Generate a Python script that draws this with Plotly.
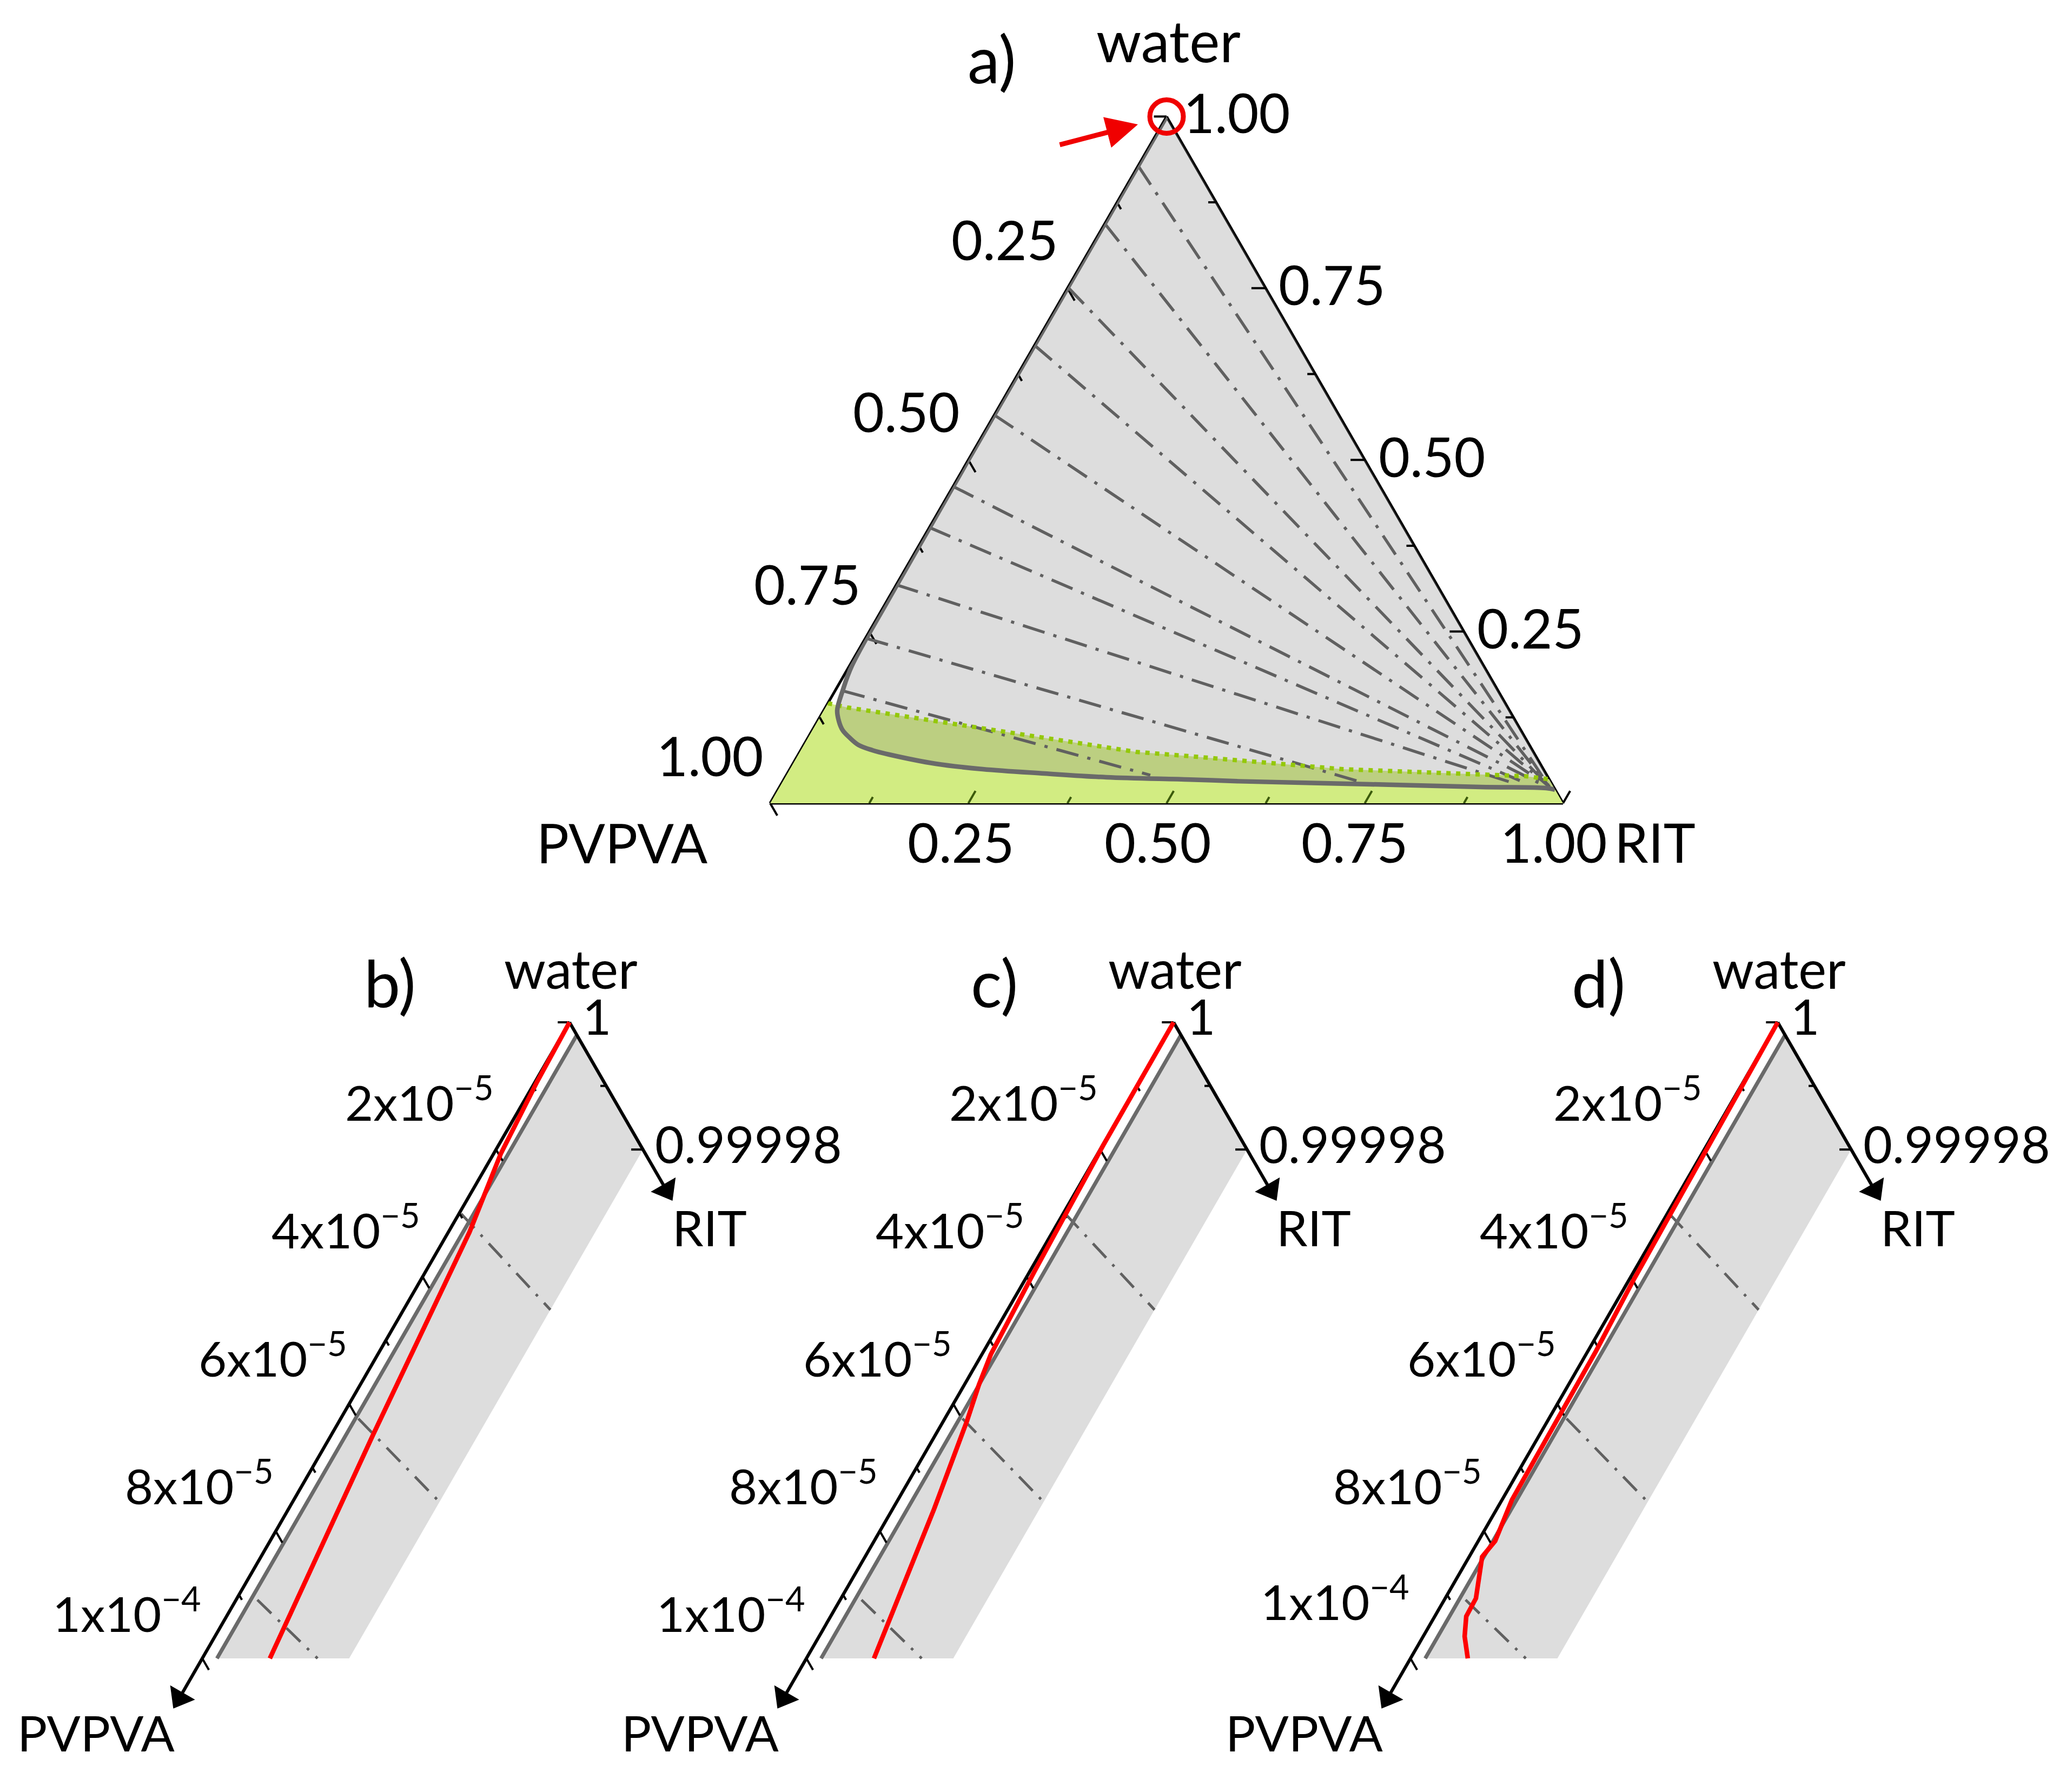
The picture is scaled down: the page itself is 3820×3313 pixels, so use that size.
import plotly.graph_objects as go

W, H = 3820, 3313
FONT = 'Lato'
TIE_GREY = '#606060'
LINE_GREY = '#6a6a6a'

# ---- panel a, whole composition triangle (mass fractions)
binodal_water = [1.0, 0.5, 0.3, 0.2, 0.1638, 0.1354, 0.1197, 0.1063, 0.0961, 0.085, 0.0772, 0.0709, 0.0575, 0.0496, 0.0433, 0.0378, 0.0345, 0.032, 0.0276, 0.0236, 0.022, 0.0197]
binodal_rit = [0.0, 0.0, 0.001, 0.003, 0.0095, 0.0169, 0.0268, 0.0383, 0.0516, 0.0687, 0.0903, 0.1147, 0.18, 0.2433, 0.3242, 0.4054, 0.5124, 0.5749, 0.7434, 0.8845, 0.9679, 0.98]

# green region, upper boundary (dotted in the figure)
dotted_water = [0.1457, 0.1394, 0.0748, 0.0685, 0.0496, 0.0394, 0.035]
dotted_rit = [0.0, 0.0278, 0.4237, 0.495, 0.6976, 0.9332, 0.965]

tie_water_left = [0.9283, 0.8441, 0.7512, 0.6669, 0.5654, 0.4614, 0.4016, 0.3181, 0.2402, 0.1638]
tie_rit_left = [0.0, 0.0, 0.0, 0.0, 0.0, 0.0, 0.0, 0.0, 0.001, 0.0095]
tie_water_right = [0.0236, 0.0236, 0.0236, 0.0236, 0.0236, 0.0276, 0.033, 0.0315, 0.0299, 0.0409]
tie_rit_right = [0.9711, 0.9711, 0.9711, 0.9711, 0.9711, 0.9589, 0.929, 0.9157, 0.7333, 0.459]

a_major_ticks = [0.25, 0.5, 0.75]
a_minor_ticks = [0.125, 0.375, 0.625, 0.875]

# ticks at the three corners of panel a, they stick out of the triangle
corner_tick_pvpva = [0.0, 0.016, None, 1.0, 1.0, None, 0.0, -0.018]
corner_tick_rit = [0.0, -0.016, None, 0.0, 0.018, None, 1.0, 1.0]

# ---- panels b, c, d, water corner enlarged
zoom_binodal_pvpva = [0.0, 9.8e-5]
zoom_binodal_rit = [2e-6, 2e-6]

zoom_region_pvpva = [0.0, 0.0, 8e-5, 9.8e-5]
zoom_region_rit = [2e-6, 2e-5, 2e-5, 2e-6]

zoom_tie_pvpva = [[2.98e-5, 2.52e-5], [5.99e-5, 5.54e-5], [8.79e-5, 8.43e-5]]
zoom_tie_rit = [[0.3e-6, 2.0e-5], [2.4e-6, 2.0e-5], [2.9e-6, 1.57e-5]]

red_pvpva_b = [0.0, 0.909e-5, 1.97e-5, 3.013e-5, 5.913e-5, 9.08e-5]
red_rit_b = [0.0, 0.26e-6, 0.98e-6, 2.88e-6, 5.67e-6, 9.2e-6]

red_pvpva_c = [0.0, 1.923e-5, 3.848e-5, 5.1e-5, 5.5e-5, 5.946e-5, 7.09e-5, 8.48e-5, 9.08e-5]
red_rit_c = [0.0, 0.08e-6, 0.63e-6, 1.22e-6, 1.98e-6, 3.2e-6, 5.65e-6, 8.2e-6, 9.2e-6]

red_pvpva_d = [0.0, 3.994e-5, 5.056e-5, 6.027e-5, 7.374e-5, 7.925e-5, 8.225e-5, 8.637e-5, 8.91e-5, 9.09e-5, 9.22e-5]
red_rit_d = [0.0, 0.62e-6, 1.1e-6, 1.13e-6, 1.35e-6, 2.3e-6, 1.76e-6, 4.19e-6, 4.28e-6, 5.64e-6, 7.8e-6]

zoom_major_ticks = [2e-5, 4e-5, 6e-5, 8e-5, 1e-4]
zoom_minor_ticks = [1e-5, 3e-5, 5e-5, 7e-5, 9e-5]
zoom_right_ticks = [(0.0, 1.6e-6), (1e-5, 0.8e-6), (2e-5, 1.6e-6)]
zoom_left_end = 1.062e-4
zoom_right_end = 2.636e-5

panel_apex_x = [1053, 2170, 3287]
panel_names = ['b)', 'c)', 'd)']
panel_red = [(red_pvpva_b, red_rit_b), (red_pvpva_c, red_rit_c), (red_pvpva_d, red_rit_d)]

left_labels = ['2x10<sup>−5</sup>', '4x10<sup>−5</sup>', '6x10<sup>−5</sup>', '8x10<sup>−5</sup>', '1x10<sup>−4</sup>']
left_label_pos = [(775, 2031), (639, 2267), (505, 2504), (368, 2740), (234, 2976)]

fig = go.Figure()


def add_ternary(water, rit, **kw):
    pvpva = [None if w is None else 1 - w - r for w, r in zip(water, rit)]
    fig.add_trace(go.Scatterternary(a=water, b=pvpva, c=rit, subplot='ternary', showlegend=False, hoverinfo='skip', **kw))


# green one phase strip, then the grey two phase region over it
add_ternary(dotted_water + [0.0, 0.0], dotted_rit + [1.0, 0.0], mode='lines', line=dict(width=0), fill='toself', fillcolor='#d2ec82')
add_ternary(binodal_water, binodal_rit, mode='lines', line=dict(width=0), fill='toself', fillcolor='rgba(127,127,127,0.267)')

# axis ticks of panel a
tick_w, tick_r = [], []
for v, d in [(t, 0.018) for t in a_major_ticks] + [(t, 0.01) for t in a_minor_ticks]:
    # left side, constant PVPVA
    tick_w += [1 - v, 1 - v - d, None]
    tick_r += [0, d, None]
    # right side, constant water
    tick_w += [v, v, None]
    tick_r += [1 - v, 1 - v - d, None]
add_ternary(tick_w, tick_r, mode='lines', line=dict(color='black', width=4))

bottom_w, bottom_r = [], []
for v, d in [(t, 0.018) for t in a_major_ticks] + [(t, 0.009) for t in a_minor_ticks]:
    bottom_w += [0, d, None]
    bottom_r += [v, v, None]
add_ternary(bottom_w, bottom_r, mode='lines', line=dict(color='#3b5a0a', width=4))

for i in range(len(tie_water_left)):
    add_ternary([tie_water_left[i], tie_water_right[i]], [tie_rit_left[i], tie_rit_right[i]], mode='lines',
                line=dict(color=TIE_GREY, width=5.5, dash='42px,17px,6px,17px'))

add_ternary(dotted_water, dotted_rit, mode='lines', line=dict(color='#94c80a', width=8, dash='8px,10px'))
add_ternary(binodal_water, binodal_rit, mode='lines', line=dict(color=LINE_GREY, width=8.5, shape='spline', smoothing=1))
add_ternary([1.0], [0.0], mode='markers', cliponaxis=False, marker=dict(symbol='circle-open', size=62, color='#f00000', line=dict(width=9, color='#f00000')))


# enlarged panels: the ternary subplot cannot be cut off at the right edge of the page,
# so these go on hidden x/y axes with x = (RIT - PVPVA) / 2 and y = water - 1
def add_zoom(pvpva, rit, idx, **kw):
    x = [None if p is None else (r - p) / 2 for p, r in zip(pvpva, rit)]
    y = [None if p is None else -(p + r) for p, r in zip(pvpva, rit)]
    sfx = '' if idx == 0 else str(idx + 1)
    fig.add_trace(go.Scatter(x=x, y=y, xaxis='x' + sfx, yaxis='y' + sfx, showlegend=False, hoverinfo='skip', **kw))


for i, red in enumerate(panel_red):
    add_zoom(zoom_region_pvpva, zoom_region_rit, i, mode='lines', line=dict(width=0), fill='toself', fillcolor='#dddddd')
    for tp, tr in zip(zoom_tie_pvpva, zoom_tie_rit):
        add_zoom(tp, tr, i, mode='lines', line=dict(color=TIE_GREY, width=5, dash='36px,17px,5px,17px'))
    add_zoom(zoom_binodal_pvpva, zoom_binodal_rit, i, mode='lines', line=dict(color=LINE_GREY, width=7))

    # black axes with arrow heads
    add_zoom([0.0, zoom_left_end], [0.0, 0.0], i, mode='lines', line=dict(color='black', width=6))
    add_zoom([0.0, 0.0], [0.0, zoom_right_end], i, mode='lines', line=dict(color='black', width=6))
    add_zoom([zoom_left_end], [0.0], i, mode='markers', marker=dict(symbol='triangle-down', size=46, angle=30, color='black'))
    add_zoom([0.0], [zoom_right_end], i, mode='markers', marker=dict(symbol='triangle-down', size=46, angle=-30, color='black'))

    tp, tr = [], []
    for v, d in [(t, 1.8e-6) for t in zoom_major_ticks] + [(t, 0.8e-6) for t in zoom_minor_ticks]:
        tp += [v, v, None]
        tr += [0.0, d, None]
    for v, d in zoom_right_ticks:
        tp += [0.0, d, None]
        tr += [v, v - d, None]
    add_zoom(tp, tr, i, mode='lines', line=dict(color='black', width=4))

    add_zoom(red[0], red[1], i, mode='lines', line=dict(color='#fe0000', width=8.5))

# corner ticks of panel a on a hidden x/y pair laid over the ternary
add_zoom(corner_tick_pvpva, corner_tick_rit, 3, mode='lines', line=dict(color='black', width=4))

annotations = []


def label(text, x, y, size=100):
    annotations.append(dict(text=text, x=x / W, y=1 - y / H, xref='paper', yref='paper', xanchor='center', yanchor='middle',
                            showarrow=False, font=dict(family=FONT, size=size, color='black')))


# panel a labels
label('a)', 1834, 108, 120)
label('water', 2160, 74, 106)
label('1.00', 2287, 207)
for txt, x, y in [('0.25', 1858, 442), ('0.50', 1676, 760), ('0.75', 1493, 1079), ('1.00', 1313, 1396),
                  ('0.75', 2463, 525), ('0.50', 2648, 843), ('0.25', 2830, 1160),
                  ('0.25', 1777, 1556), ('0.50', 2141, 1556), ('0.75', 2505, 1556), ('1.00', 2873, 1556),
                  ('RIT', 3060, 1556), ('PVPVA', 1150, 1557)]:
    label(txt, x, y)

# red arrow to the water corner
annotations.append(dict(x=2104 / W, y=1 - 230 / H, xref='paper', yref='paper', ax=-146, ay=38, axref='pixel', ayref='pixel',
                        text='', showarrow=True, arrowcolor='#f00000', arrowwidth=9, arrowhead=2, arrowsize=1.3))

layout_axes = {}
for i, (apex, name) in enumerate(zip(panel_apex_x, panel_names)):
    dx = apex - panel_apex_x[0]
    label(name, 721 + dx, 1816, 120)
    label('water', 1055 + dx, 1790, 98)
    label('1', 1103 + dx, 1877, 92)
    label('0.99998', 1384 + dx, 2114, 93)
    label('RIT', 1312 + dx, 2268, 92)
    label('PVPVA', 178 + dx, 3202, 92)
    for j, (txt, (x, y)) in enumerate(zip(left_labels, left_label_pos)):
        # the last label of panel d sits a little higher
        label(txt, x + dx, y - (22 if i == 2 and j == 4 else 0), 90)

    sfx = '' if i == 0 else str(i + 1)
    layout_axes['xaxis' + sfx] = dict(visible=False, domain=[(apex - 760) / W, (apex + 240) / W], range=[-760 / 1358e4, 240 / 1358e4])
    layout_axes['yaxis' + sfx] = dict(visible=False, domain=[1 - 3180 / H, 1 - 1870 / H], range=[-1290 / 1176e4, 20 / 1176e4])

layout_axes['xaxis4'] = dict(visible=False, domain=[1384 / W, 2930 / W], range=[-773 / 1466, 773 / 1466])
layout_axes['yaxis4'] = dict(visible=False, domain=[1 - 1525 / H, 1 - 175 / H], range=[-1309.6 / 1269.6, 40.4 / 1269.6])

ternary_axis = dict(min=0, showgrid=False, showticklabels=False, ticks='', linecolor='black', linewidth=5,
                    layer='below traces', title=dict(text=''))

fig.update_layout(
    width=W, height=H,
    margin=dict(l=0, r=0, t=0, b=0),
    paper_bgcolor='white', plot_bgcolor='rgba(0,0,0,0)',
    showlegend=False,
    ternary=dict(domain=dict(x=[1424 / W, 2890 / W], y=[1 - 1485 / H, 1 - 215.4 / H]), sum=1, bgcolor='rgba(0,0,0,0)',
                 aaxis=ternary_axis, baxis=ternary_axis, caxis=ternary_axis),
    annotations=annotations,
    **layout_axes
)

# the browser's default body margin would shift the whole figure
fig.write_html("out.html", config={'displayModeBar': False}, post_script="document.body.style.margin='0';")
